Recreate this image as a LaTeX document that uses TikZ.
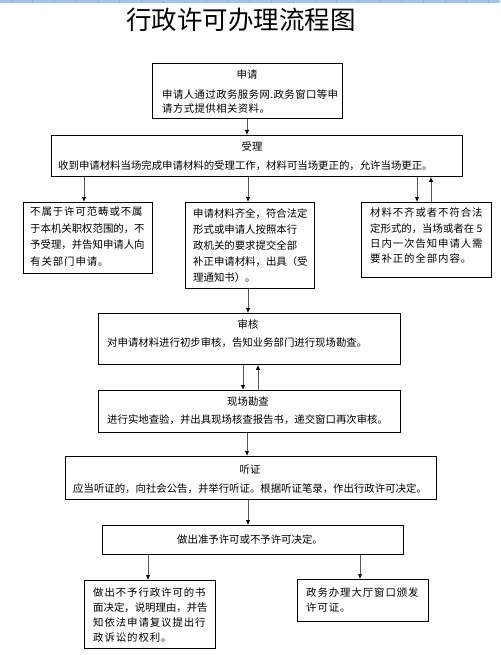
\documentclass[tikz,border=0pt]{standalone}
\usepackage{fontspec}
\newfontfamily\cjk{Noto Sans CJK SC}
\newfontfamily\cjkw[LetterSpace=9]{Noto Sans CJK SC}
\newfontfamily\cjkm[LetterSpace=4]{Noto Sans CJK SC}
\usetikzlibrary{arrows.meta}
\definecolor{rulerblue}{HTML}{A9C3E6}
\begin{document}
\begin{tikzpicture}[x=1pt,y=-1pt,
  box/.style={draw=black, line width=0.9pt, inner sep=0pt, anchor=north west},
  ttl/.style={inner sep=0pt, font=\cjk\fontsize{10.4}{12}\selectfont},
  txt/.style={inner sep=0pt, anchor=north west, align=left, font=\cjk\fontsize{10.4}{13.3}\selectfont},
  arr/.style={draw=black!65, line width=0.9pt, -{Latex[length=5pt,width=4.5pt,color=black]}}
]
\useasboundingbox[fill=white] (0,0) rectangle (500,655);
% ruler strip
\fill[rulerblue] (0,0) rectangle (500,3);
\foreach \i in {0,...,22} \draw[black!35, line width=0.5pt] (11+\i*21.7,1) -- ++(0,2);

% title
\node[inner sep=0pt, font=\cjk\fontsize{25.5}{28}\selectfont] (title) at (241,20) {行政许可办理流程图};

% boxes
\node[box, minimum width=190pt, minimum height=55pt] (sq) at (152,63) {};
\node[box, minimum width=411pt, minimum height=41pt] (sl) at (51,135) {};
\node[box, minimum width=129pt, minimum height=71pt] (lb) at (23,202) {};
\node[box, minimum width=129pt, minimum height=86pt] (mb) at (185,202) {};
\node[box, minimum width=130pt, minimum height=75pt] (rb) at (361,202) {};
\node[box, minimum width=302pt, minimum height=51pt] (sh) at (98,313) {};
\node[box, minimum width=302pt, minimum height=42pt] (xc) at (98,390) {};
\node[box, minimum width=371pt, minimum height=43pt] (tz) at (65,456) {};
\node[box, minimum width=301pt, minimum height=29pt] (zc) at (102,525) {};
\node[box, minimum width=131pt, minimum height=68pt] (bl) at (84,580) {};
\node[box, minimum width=131pt, minimum height=42pt] (br) at (297,579) {};

% texts
\node[ttl] (sq-t) at (247,75) {申请};
\node[txt, font=\cjkm\fontsize{10.4}{13.3}\selectfont] (sq-b) at (162,90) {申请人通过政务服务网.政务窗口等申\\请方式提供相关资料。};
\node[ttl] (sl-t) at (252,147) {受理};
\node[txt] (sl-b) at (58,160) {收到申请材料当场完成申请材料的受理工作，材料可当场更正的，允许当场更正。};
\node[txt, font=\fontsize{10.4}{16.4}\selectfont] (lb-b) at (30,207) {{\cjkw 不属于许可范畴或不属}\\{\cjk 于本机关职权范围的，不}\\{\cjk 予受理，并告知申请人向}\\{\cjkw 有关部门申请。}};
\node[txt, font=\cjk\fontsize{10.4}{16}\selectfont] (mb-b) at (193,208) {申请材料齐全，符合法定\\形式或申请人按照本行\\政机关的要求提交全部\\补正申请材料，出具（受\\理通知书）。};
\node[txt, font=\fontsize{10.4}{15.3}\selectfont] (rb-b) at (370,208) {{\cjkw 材料不齐或者不符合法}\\{\cjk 定形式的，当场或者在 5}\\{\cjkw 日内一次告知申请人需}\\{\cjkw 要补正的全部内容。}};
\node[ttl] (sh-t) at (248,325) {审核};
\node[txt] (sh-b) at (107,337) {对申请材料进行初步审核，告知业务部门进行现场勘查。};
\node[ttl] (xc-t) at (248,402) {现场勘查};
\node[txt] (xc-b) at (107,414) {进行实地查验，并出具现场核查报告书，递交窗口再次审核。};
\node[ttl] (tz-t) at (250,470) {听证};
\node[txt] (tz-b) at (73,483) {应当听证的，向社会公告，并举行听证。根据听证笔录，作出行政许可决定。};
\node[ttl] (zc-t) at (250,540) {做出准予许可或不予许可决定。};
\node[txt, font=\fontsize{10.4}{15}\selectfont] (bl-b) at (93,588) {{\cjkw 做出不予行政许可的书}\\{\cjk 面决定，说明理由，并告}\\{\cjkw 知依法申请复议提出行}\\{\cjkw 政诉讼的权利。}};
\node[txt, font=\cjkw\fontsize{10.4}{15}\selectfont] (br-b) at (306,588) {政务办理大厅窗口颁发\\许可证。};

% x positions for connectors
\coordinate (x84) at (84,0);
\coordinate (x148) at (148,0);
\coordinate (x243) at (243,0);
\coordinate (x247) at (247,0);
\coordinate (x248) at (248,0);
\coordinate (x258) at (258,0);
\coordinate (x360) at (360,0);
\coordinate (x417) at (417,0);
\coordinate (x431) at (431,0);

% connectors
\draw[arr] (sq.south -| x247) -- (sl.north -| x247);
\draw[arr] (sl.south -| x84) -- (lb.north -| x84);
\draw[arr] (sl.south -| x248) -- (mb.north -| x248);
\draw[arr] (sl.south -| x417) -- (rb.north -| x417);
\draw[arr] (rb.north -| x431) -- (sl.south -| x431);
\draw[arr] (mb.south -| x248) -- (sh.north -| x248);
\draw[arr] (sh.south -| x243) -- (xc.north -| x243);
\draw[arr] (xc.north -| x258) -- (sh.south -| x258);
\draw[arr] (xc.south -| x247) -- (tz.north -| x247);
\draw[arr] (tz.south -| x248) -- (zc.north -| x248);
\draw[arr] (zc.south -| x148) -- (bl.north -| x148);
\draw[arr] (zc.south -| x360) -- (br.north -| x360);
\end{tikzpicture}
\end{document}
